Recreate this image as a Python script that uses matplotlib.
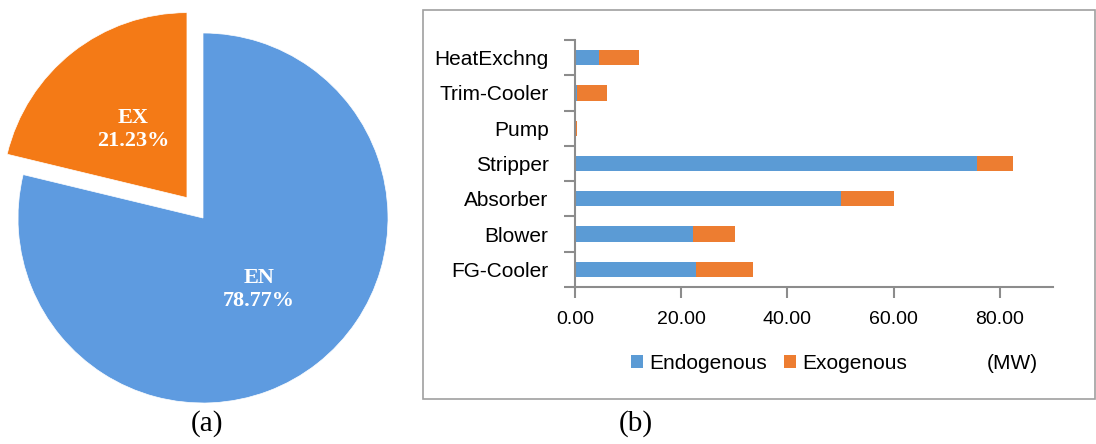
import matplotlib.pyplot as plt
import numpy as np
from matplotlib.patches import Rectangle

# pie (a)
pie_names = ["EN", "EX"]
pie_shares = [78.77, 21.23]

# bar chart (b), top to bottom as in the picture
units = ["HeatExchng", "Trim-Cooler", "Pump", "Stripper", "Absorber", "Blower", "FG-Cooler"]
endogenous = [4.5, 0.4, 0.05, 75.6, 50.0, 22.3, 22.8]
exogenous = [7.5, 5.6, 0.35, 6.8, 10.0, 7.8, 10.7]
xticks = [0, 20, 40, 60, 80]

BLUE = "#5B9BD5"
ORANGE = "#ED7D31"
PIE_BLUE = "#5E9BE0"
PIE_ORANGE = "#F47A16"
GREY = "#8C8C8C"

W, H = 1096, 444
fig = plt.figure(figsize=(W / 100, H / 100), dpi=100)


def box(x0, y0, x1, y1):
    # pixel box (top-left origin) -> figure fraction
    return [x0 / W, 1 - y1 / H, (x1 - x0) / W, (y1 - y0) / H]


# ---- (a) pie ----
R = 185
cx, cy = 203, 218
ax_p = fig.add_axes(box(cx - 200, cy - 200, cx + 200, cy + 200))
wedges, _ = ax_p.pie(pie_shares, colors=[PIE_BLUE, PIE_ORANGE], startangle=90,
                     counterclock=False, explode=[0, 0.14], radius=1,
                     wedgeprops=dict(edgecolor="white", linewidth=0.5))
for w, name, share, dist in zip(wedges, pie_names, pie_shares, [0.49, 0.47]):
    ang = np.deg2rad((w.theta1 + w.theta2) / 2)
    x = w.center[0] + dist * np.cos(ang)
    y = w.center[1] + dist * np.sin(ang)
    ax_p.text(x, y, f"{name}\n{share:.2f}%", ha="center", va="center",
              color="white", fontsize=16, fontweight="bold",
              family="Liberation Serif", linespacing=1.2)
lim = 200 / R
ax_p.set_xlim(-lim, lim)
ax_p.set_ylim(-lim, lim)
ax_p.set_aspect("equal")
ax_p.axis("off")

# ---- (b) stacked bars ----
fig.patches.append(Rectangle((423 / W, 1 - 399 / H), (1095 - 423) / W, (399 - 10) / H,
                             transform=fig.transFigure, fill=False,
                             edgecolor="#A0A0A0", linewidth=1.2))

ax = fig.add_axes(box(575, 40, 1053, 287))
ypos = np.arange(len(units))[::-1]
ax.barh(ypos, endogenous, height=0.43, color=BLUE, label="Endogenous")
ax.barh(ypos, exogenous, left=endogenous, height=0.43, color=ORANGE, label="Exogenous")
ax.set_ylim(-0.5, len(units) - 0.5)
ax.set_xlim(0, 90)
ax.set_yticks(ypos)
ax.set_yticklabels(units, family="Liberation Sans", fontsize=15)
ax.set_yticks(np.arange(-0.5, len(units)), minor=True)
ax.tick_params(axis="y", which="major", length=0, pad=19)
ax.tick_params(axis="y", which="minor", length=8, color=GREY, width=1.5)
ax.set_xticks(xticks)
ax.set_xticklabels([f"{v:.2f}" for v in xticks], family="Liberation Sans", fontsize=14)
ax.tick_params(axis="x", length=8, color=GREY, width=1.5, pad=9)
for s in ["top", "right"]:
    ax.spines[s].set_visible(False)
for s in ["left", "bottom"]:
    ax.spines[s].set_color(GREY)
    ax.spines[s].set_linewidth(1.5)

fig.legend(loc="center", bbox_to_anchor=(769 / W, 1 - 363 / H), ncol=2, frameon=False,
           handlelength=0.6, handleheight=0.6, handletextpad=0.3, columnspacing=0.8,
           prop=dict(family="Liberation Sans", size=15))
fig.text(1012 / W, 1 - 363 / H, "(MW)", ha="center", va="center",
         family="Liberation Sans", fontsize=15)

# captions
fig.text(207 / W, 1 - 424 / H, "(a)", ha="center", va="center",
         family="Liberation Serif", fontsize=21)
fig.text(636 / W, 1 - 424 / H, "(b)", ha="center", va="center",
         family="Liberation Serif", fontsize=21)

fig.savefig("out.png", dpi=100)
